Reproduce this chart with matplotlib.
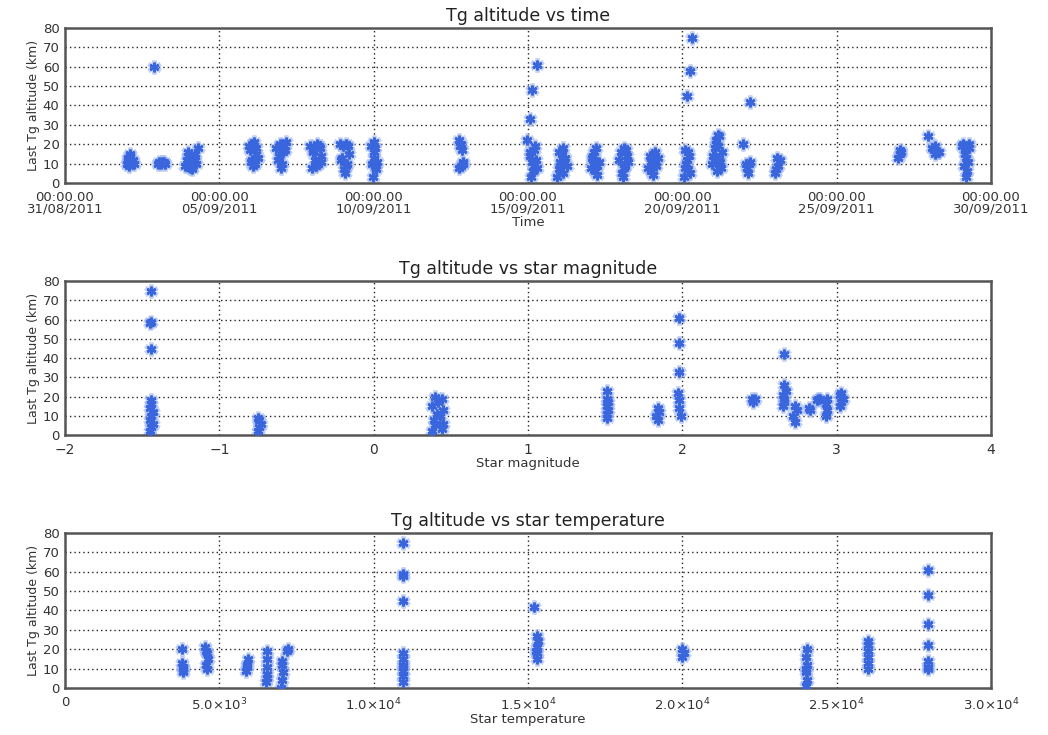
import matplotlib
matplotlib.use('Agg')
import matplotlib.pyplot as plt
from datetime import datetime, timedelta

# ---------------- data ----------------
start_date = datetime(2011, 8, 31)
time_tick_labels = ["00:00.00\n31/08/2011", "00:00.00\n05/09/2011", "00:00.00\n10/09/2011",
                    "00:00.00\n15/09/2011", "00:00.00\n20/09/2011", "00:00.00\n25/09/2011",
                    "00:00.00\n30/09/2011"]
time_tick_days = [0, 5, 10, 15, 20, 25, 30]

# days since 31/08/2011 00:00
t_day = [2.00, 2.05, 2.10, 2.15, 2.20, 2.25, 2.08, 2.12, 2.18, 2.03,
         2.90, 3.00, 3.05, 3.10, 3.15, 3.20, 3.25,
         3.90, 3.95, 4.00, 4.05, 4.10, 4.15, 4.20, 4.25, 4.30, 4.00, 4.12, 4.22,
         5.95, 6.00, 6.05, 6.10, 6.15, 6.20, 6.25, 6.02, 6.12, 6.18, 6.08,
         6.85, 6.90, 6.95, 7.00, 7.05, 7.10, 7.15, 6.92, 7.02, 7.12,
         7.95, 8.00, 8.05, 8.10, 8.15, 8.20, 8.25, 8.30, 8.02, 8.12, 8.22, 8.28,
         8.90, 8.95, 9.00, 9.05, 9.10, 9.15, 9.20, 8.98, 9.08, 9.18, 9.12,
         9.90, 9.95, 10.00, 10.05, 10.10, 9.98, 10.02, 10.08, 10.00, 10.04,
         12.75, 12.80, 12.85, 12.90, 12.78, 12.88, 12.82, 12.84,
         14.97, 15.08, 15.12, 15.30, 15.10, 15.15, 15.20, 15.25, 15.05, 15.18, 15.22, 15.12, 15.28, 15.08,
         15.95, 16.00, 16.05, 16.10, 16.15, 16.20, 16.25, 16.02, 16.12, 16.18, 16.08,
         17.05, 17.10, 17.15, 17.20, 17.25, 17.30, 17.12, 17.22, 17.18, 17.08,
         17.95, 18.00, 18.05, 18.10, 18.15, 18.20, 18.25, 18.08, 18.18, 18.12,
         18.90, 18.95, 19.00, 19.05, 19.10, 19.15, 19.20, 18.98, 19.08, 19.12,
         20.15, 20.25, 20.30, 20.05, 20.10, 20.15, 20.20, 20.25, 20.12, 20.22, 20.08, 20.18,
         20.95, 21.00, 21.05, 21.10, 21.15, 21.20, 21.25, 21.30, 21.08, 21.18, 21.12, 21.22, 21.05, 21.15,
         21.96, 22.20, 22.05, 22.10, 22.15, 22.20, 22.12,
         23.00, 23.05, 23.10, 23.15, 23.08,
         27.00, 27.05, 27.05, 27.10,
         27.95, 28.10, 28.15, 28.20, 28.25, 28.30, 28.18,
         29.05, 29.10, 29.15, 29.20, 29.25, 29.30, 29.12, 29.22, 29.18, 29.15, 29.28]
t_alt = [10, 13, 15, 11, 12, 10, 9, 14, 11, 12,
         60, 10, 11, 10, 11, 11, 10,
         9, 12, 14, 8, 11, 13, 15, 10, 18, 16, 7, 12,
         19, 17, 12, 20, 10, 18, 13, 11, 21, 15, 9,
         18, 12, 20, 8, 16, 19, 21, 14, 10, 17,
         19, 8, 17, 12, 20, 10, 18, 14, 16, 9, 19, 11,
         20, 12, 19, 7, 20, 10, 15, 13, 5, 19, 9,
         19, 10, 21, 18, 11, 3, 13, 7, 16, 9,
         22, 19, 17, 10, 8, 11, 20, 9,
         22, 33, 48, 61, 3, 6, 9, 12, 14, 17, 19, 11, 8, 16,
         3, 7, 11, 15, 18, 13, 9, 16, 5, 12, 10,
         8, 12, 16, 18, 4, 11, 14, 9, 6, 13,
         12, 16, 5, 18, 9, 14, 11, 3, 17, 8,
         8, 14, 11, 4, 16, 9, 13, 6, 15, 10,
         45, 58, 75, 3, 8, 12, 16, 5, 10, 14, 17, 7,
         10, 14, 18, 22, 25, 12, 8, 16, 20, 24, 6, 11, 13, 19,
         20, 42, 10, 8, 10, 11, 5,
         5, 7, 9, 12, 13,
         13, 15, 17, 16,
         24, 18, 17, 15, 16, 16, 19,
         19, 20, 17, 13, 11, 18, 9, 6, 3, 15, 20]

mag = [-1.44, -1.44, -1.45, -1.44,
       -1.45, -1.44, -1.43, -1.45, -1.44, -1.43, -1.45, -1.44, -1.44,
       -0.75, -0.74, -0.73, -0.74, -0.75,
       0.38, 0.44, 0.40, 0.45, 0.39, 0.43, 0.41, 0.45, 0.38, 0.42, 0.44, 0.40,
       1.51, 1.51, 1.52, 1.51, 1.52, 1.51, 1.51,
       1.84, 1.83, 1.85, 1.84,
       1.98, 1.98, 1.98, 1.97, 1.98, 1.98, 1.99,
       2.46, 2.47, 2.45,
       2.66, 2.65, 2.66, 2.66, 2.65, 2.67, 2.66,
       2.73, 2.72, 2.74, 2.73,
       2.82, 2.83,
       2.87, 2.88, 2.89,
       2.93, 2.94, 2.93, 2.94,
       3.02, 3.03, 3.04, 3.02, 3.03]
mag_alt = [75, 59, 58, 45,
           2, 4, 6, 8, 10, 12, 14, 16, 18,
           2, 4, 6, 8, 9,
           2, 3, 5, 6, 8, 10, 11, 13, 15, 17, 19, 20,
           9, 11, 13, 15, 17, 19, 23,
           8, 10, 12, 14,
           61, 48, 33, 22, 18, 14, 10,
           17, 19, 19,
           42, 15, 17, 19, 21, 23, 26,
           7, 10, 13, 15,
           14, 13,
           18, 19, 19,
           10, 13, 16, 19,
           15, 17, 19, 21, 22]
mag_ticks = [-2, -1, 0, 1, 2, 3, 4]
mag_tick_labels = ["\u22122", "\u22121", "0", "1", "2", "3", "4"]

temp = [3800, 3800, 3820, 3810, 3830,
        4550, 4600, 4620, 4580, 4600, 4560,
        5880, 5900, 5920, 5900,
        6520, 6550, 6560, 6540, 6550, 6530,
        7000, 7030, 7050, 7020, 7030,
        7220, 7200,
        10950, 10950, 10950, 10950, 10950, 10950, 10950, 10950, 10950, 10950, 10950,
        15200, 15300, 15300, 15280, 15320, 15300, 15250,
        20000, 20050, 20000,
        24000, 24050, 24000, 24050, 24000, 24050, 24000,
        26000, 26000, 26020, 26000, 26020, 26000,
        27950, 27950, 27950, 27950, 27950, 27950, 27950]
temp_alt = [20, 13, 10, 8, 11,
            21, 18, 15, 12, 10, 19,
            9, 12, 15, 11,
            3, 7, 11, 15, 19, 5,
            0, 4, 8, 12, 14,
            20, 19,
            75, 59, 58, 45, 3, 6, 9, 12, 15, 18, 11,
            42, 15, 18, 21, 24, 27, 19,
            16, 18, 20,
            1, 4, 8, 12, 16, 20, 10,
            10, 13, 16, 19, 22, 24,
            61, 48, 33, 22, 14, 11, 10]
temp_ticks = [0, 5000, 10000, 15000, 20000, 25000, 30000]
temp_tick_labels = ["0", "5.0\u00d710$^3$", "1.0\u00d710$^4$", "1.5\u00d710$^4$",
                    "2.0\u00d710$^4$", "2.5\u00d710$^4$", "3.0\u00d710$^4$"]

alt_ticks = [0, 10, 20, 30, 40, 50, 60, 70, 80]

# ---------------- styling ----------------
plt.rcParams['font.family'] = ['DejaVu Sans']
plt.rcParams['mathtext.fontset'] = 'dejavusans'
pt_color = '#3a66dd'
halo_color = '#9db5f0'
text_color = '#333333'
grid_kw = dict(color='#222222', linestyle=(0, (1, 2.2)), linewidth=1.0)

fig = plt.figure(figsize=(10.48, 7.35), dpi=100)
ax1 = fig.add_axes([0.062, 0.751, 0.8836, 0.211])
ax2 = fig.add_axes([0.062, 0.408, 0.8836, 0.2095])
ax3 = fig.add_axes([0.062, 0.064, 0.8836, 0.211])


def style(ax, title, xlabel):
    ax.set_ylim(0, 80)
    ax.set_yticks(alt_ticks)
    ax.set_yticklabels([str(v) for v in alt_ticks], fontsize=9.5, color=text_color)
    ax.set_ylabel("Last Tg altitude (km)", fontsize=9, labelpad=2, color=text_color)
    ax.set_title(title, fontsize=12.5, pad=5, color='#222222')
    ax.set_xlabel(xlabel, fontsize=9.5, labelpad=0, color=text_color)
    ax.tick_params(axis='y', length=0, pad=4)
    ax.tick_params(axis='x', length=0, pad=6)
    for s in ax.spines.values():
        s.set_linewidth(1.8)
        s.set_color('#555555')
    for v in alt_ticks[1:-1]:
        ax.axhline(v, **grid_kw, zorder=1)


def scatter(ax, x, y):
    ax.plot(x, y, linestyle='none', marker=(6, 2, 0), markersize=10,
            markeredgewidth=3.0, color=halo_color, alpha=0.6, zorder=2)
    ax.plot(x, y, linestyle='none', marker=(6, 2, 0), markersize=7,
            markeredgewidth=1.8, color=pt_color, zorder=3)


# Panel 1: time
t_dates = [start_date + timedelta(days=d) for d in t_day]
tick_dates = [start_date + timedelta(days=d) for d in time_tick_days]
style(ax1, "Tg altitude vs time", "Time")
scatter(ax1, t_dates, t_alt)
ax1.set_xlim(tick_dates[0], tick_dates[-1])
ax1.set_xticks(tick_dates)
ax1.set_xticklabels(time_tick_labels, fontsize=9.5, linespacing=0.85, color=text_color)
for d in tick_dates[1:-1]:
    ax1.axvline(d, **grid_kw, zorder=1)

# Panel 2: magnitude
style(ax2, "Tg altitude vs star magnitude", "Star magnitude")
scatter(ax2, mag, mag_alt)
ax2.set_xlim(mag_ticks[0], mag_ticks[-1])
ax2.set_xticks(mag_ticks)
ax2.set_xticklabels(mag_tick_labels, fontsize=10, color=text_color)
for v in mag_ticks[1:-1]:
    ax2.axvline(v, **grid_kw, zorder=1)

# Panel 3: temperature
style(ax3, "Tg altitude vs star temperature", "Star temperature")
scatter(ax3, temp, temp_alt)
ax3.set_xlim(temp_ticks[0], temp_ticks[-1])
ax3.set_xticks(temp_ticks)
ax3.set_xticklabels(temp_tick_labels, fontsize=9.5, color=text_color)
for v in temp_ticks[1:-1]:
    ax3.axvline(v, **grid_kw, zorder=1)

fig.savefig("out.png", dpi=100, facecolor='white')
